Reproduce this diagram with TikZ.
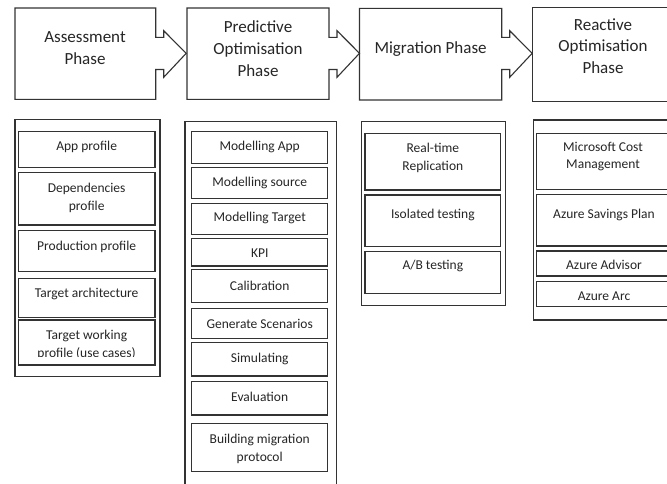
\documentclass[tikz,border=0pt]{standalone}
\usepackage{fontspec}
\setmainfont{Carlito}
\definecolor{ln}{HTML}{333333}
\definecolor{tx}{HTML}{262626}
\tikzset{
  phaseline/.style={draw=ln, line width=1.1pt, line join=miter},
  boxline/.style={draw=ln, line width=1.1pt},
  phasetext/.style={text=tx, align=center, inner sep=0pt, font=\fontsize{17}{21.8}\selectfont},
  itemtext/.style={text=tx, align=center, inner sep=0pt, font=\fontsize{13.5}{17.6}\selectfont},
}
% #1 name, #2 x1, #3 y1, #4 x2, #5 y2, #6 text y, #7 text
\newcommand\boxitem[7]{%
  \draw[boxline] (#2,#3) rectangle (#4,#5);
  \node[itemtext] (#1) at ({(#2+#4)/2},#6) {#7};}
% phase box with arrow on its right: #1 left, #2 right edge, #3 top, #4 bottom
\newcommand\phasearrowbox[4]{%
  \draw[phaseline] (#2,37.3) -- ({#2+8},37.3) -- ({#2+8},30.7) -- ({#2+30.5},53.3)
    -- ({#2+8},77.3) -- ({#2+8},69.5) -- (#2,69.5) -- (#2,#4) -- (#1,#4) -- (#1,#3) -- (#2,#3) -- cycle;}
\begin{document}
\begin{tikzpicture}[x=1pt,y=-1pt]
\useasboundingbox (0,0) rectangle (667,483);
\clip (0,0) rectangle (667,483);
\fill[white] (0,0) rectangle (667,483);

% ---- phase boxes ----
\phasearrowbox{15}{155.7}{8}{99.3}
\phasearrowbox{187}{329}{8}{99.3}
\phasearrowbox{359.5}{501.7}{8.3}{100}
\draw[phaseline] (532.2,7.3) rectangle (690,101.7);

\node[phasetext] (assess) at (85,48.5) {Assessment\\Phase};
\node[phasetext] (predict) at (258,48.5) {Predictive\\Optimisation\\Phase};
\node[phasetext] (migrate) at (430.6,48.8) {Migration Phase};
\node[phasetext] (react) at (603,46) {Reactive\\Optimisation\\Phase};

% ---- Assessment column ----
\draw[boxline] (15,119.3) rectangle (160,376.7);
\boxitem{a1}{18.3}{131.7}{155}{167.3}{147.3}{App profile}
\boxitem{a2}{18.3}{172.3}{155}{225}{198}{Dependencies\\profile}
\boxitem{a3}{18.3}{230.7}{155}{271.7}{246.7}{Production profile}
\boxitem{a4}{18.3}{278.3}{155}{317.3}{294}{Target architecture}
\draw[boxline] (18.3,320) rectangle (155,365);
\begin{scope}
  \clip (18.3,320) rectangle (155,356.3);
  \node[itemtext] (a5) at (86.65,345) {Target working\\profile (use cases)};
\end{scope}

% ---- Predictive column ----
\draw[boxline] (336.7,495) -- (336.7,121.7) -- (185,121.7) -- (185,495);
\boxitem{p1}{191.7}{131.7}{327.7}{163.3}{147.3}{Modelling App}
\boxitem{p2}{191.7}{167.3}{327.7}{198.3}{182.7}{Modelling source}
\boxitem{p3}{191.7}{203.3}{327.7}{234.3}{218.3}{Modelling Target}
\boxitem{p4}{191.7}{238.3}{327.7}{266}{253.5}{KPI}
\boxitem{p5}{191.7}{269.3}{327.7}{302.7}{285.7}{Calibration}
\boxitem{p6}{191.7}{308.3}{327.7}{338.3}{324.3}{Generate Scenarios}
\boxitem{p7}{191.7}{342.7}{327.7}{376}{359.3}{Simulating}
\boxitem{p8}{191.7}{381.7}{327.7}{415}{397.3}{Evaluation}
\boxitem{p9}{191.7}{423.3}{327.7}{471.7}{448.7}{Building migration\\protocol}

% ---- Migration column ----
\draw[boxline] (361.7,121.7) rectangle (505.7,305.7);
\boxitem{m1}{365}{133.3}{500.7}{190}{157.8}{Real-time\\Replication}
\boxitem{m2}{365}{195}{500.7}{246.7}{215}{Isolated testing}
\boxitem{m3}{365}{251.7}{500.7}{293.3}{266}{A/B testing}

% ---- Reactive column ----
\draw[boxline] (533.3,120) rectangle (690,320);
\draw[boxline] (536.7,133.3) rectangle (685,189.3);
\node[itemtext] (r1) at (603,156.7) {Microsoft Cost\\Management};
\draw[boxline] (536.7,194.3) rectangle (685,246);
\node[itemtext] (r2) at (604,215) {Azure Savings Plan};
\draw[boxline] (536.7,251) rectangle (685,276);
\node[itemtext] (r3) at (604,265) {Azure Advisor};
\draw[boxline] (536.7,281.7) rectangle (685,306.7);
\node[itemtext] (r4) at (604,296) {Azure Arc};
\end{tikzpicture}
\end{document}
